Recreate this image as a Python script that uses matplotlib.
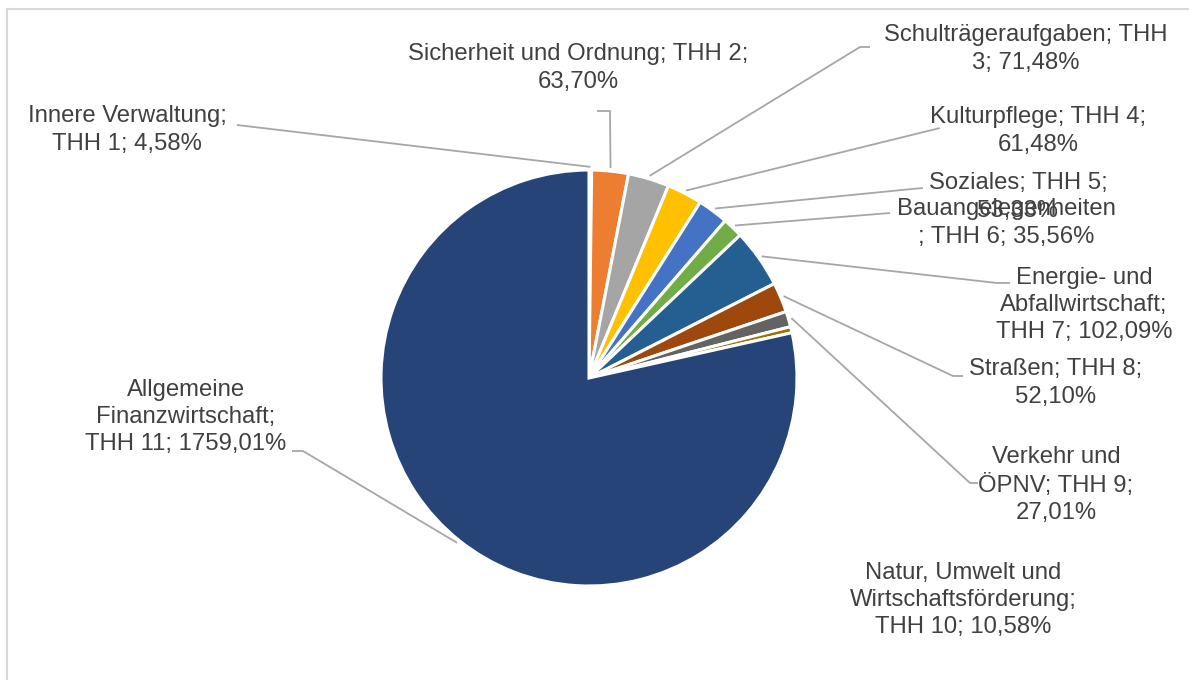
import numpy as np
import matplotlib
matplotlib.use("Agg")
import matplotlib.pyplot as plt
from matplotlib.lines import Line2D

# ---- data ----
categories = ["Innere Verwaltung", "Sicherheit und Ordnung", "Schulträgeraufgaben",
              "Kulturpflege", "Soziales", "Bauangelegenheiten",
              "Energie- und Abfallwirtschaft", "Straßen", "Verkehr und ÖPNV",
              "Natur, Umwelt und Wirtschaftsförderung", "Allgemeine Finanzwirtschaft"]
codes = ["THH 1", "THH 2", "THH 3", "THH 4", "THH 5", "THH 6",
         "THH 7", "THH 8", "THH 9", "THH 10", "THH 11"]
values = [4.58, 63.70, 71.48, 61.48, 53.33, 35.56, 102.09, 52.10, 27.01, 10.58, 1759.01]

# ---- style ----
colors = ["#5B9BD5", "#ED7D31", "#A5A5A5", "#FFC000", "#4472C4", "#70AD47",
          "#255E91", "#9E480E", "#636363", "#997300", "#264478"]

# label text templates (line breaks as in the reference)
templates = [
    "Innere Verwaltung;\n{c}; {p}",
    "Sicherheit und Ordnung; {c};\n{p}",
    "Schulträgeraufgaben; THH\n3; {p}",
    "Kulturpflege; {c};\n{p}",
    "Soziales; {c};\n{p}",
    "Bauangelegenheiten\n; {c}; {p}",
    "Energie- und\nAbfallwirtschaft;\n{c}; {p}",
    "Straßen; {c};\n{p}",
    "Verkehr und\nÖPNV; {c};\n{p}",
    "Natur, Umwelt und\nWirtschaftsförderung;\n{c}; {p}",
    "Allgemeine\nFinanzwirtschaft;\n{c}; {p}",
]

# layout (pixel coordinates)
label_pos = [(127, 130), (578, 68), (1026, 49), (1038, 131), (1018, 197),
             (1006, 223), (1084, 305), (1056, 383), (1056, 485), (963, 600), (186, 417)]
leader_pts = [
    [(237, 125)],
    [(597, 111), (610, 111)],
    [(870, 47), (860, 47)],
    [(940, 128)],
    [(923, 188), (912, 189)],
    [(890, 213)],
    [(1010, 283), (997, 283)],
    [(963, 376), (953, 376)],
    [(978, 483), (970, 483)],
    None,
    [(292, 451), (303, 451)],
]

W, H = 1189, 680
fig = plt.figure(figsize=(W / 100, H / 100), dpi=100)
ax = fig.add_axes([0, 0, 1, 1])

cx, cy, R = 589, 378, 208
wedges, _ = ax.pie(values, colors=colors, startangle=-90, counterclock=True,
                   center=(cx, cy), radius=R,
                   wedgeprops=dict(edgecolor="white", linewidth=2.2))
ax.set_xlim(0, W)
ax.set_ylim(H, 0)
ax.set_aspect("equal")
ax.axis("off")

font = ["Liberation Sans", "DejaVu Sans"]
txtcol = "#404040"
for i, (w, v) in enumerate(zip(wedges, values)):
    pct = f"{v:.2f}".replace(".", ",") + "%"
    txt = templates[i].format(c=codes[i], p=pct)
    x, y = label_pos[i]
    ax.text(x, y, txt, ha="center", va="center", multialignment="center",
            fontsize=17.2, color=txtcol, family=font, linespacing=1.3, zorder=5)
    pts = leader_pts[i]
    if pts is None:
        continue
    th = np.deg2rad((w.theta1 + w.theta2) / 2)
    ex = w.center[0] + w.r * 1.015 * np.cos(th)
    ey = w.center[1] + w.r * 1.015 * np.sin(th)
    xs = [p[0] for p in pts] + [ex]
    ys = [p[1] for p in pts] + [ey]
    ax.plot(xs, ys, color="#A6A6A6", lw=1.3, zorder=1, solid_capstyle="butt")

# chart frame (left and top edges visible)
fig.add_artist(Line2D([7 / W, 7 / W], [0, 1 - 9 / H], transform=fig.transFigure,
                      color="#D9D9D9", lw=1.5))
fig.add_artist(Line2D([7 / W, 1], [1 - 9 / H, 1 - 9 / H], transform=fig.transFigure,
                      color="#D9D9D9", lw=1.5))

fig.savefig("out.png", dpi=100, facecolor="white")
